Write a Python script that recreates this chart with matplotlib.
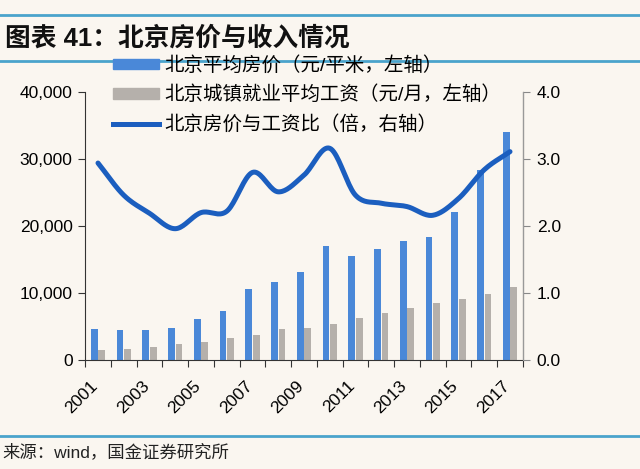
import numpy as np
import matplotlib
matplotlib.use("Agg")
import matplotlib.pyplot as plt
from matplotlib.lines import Line2D
import matplotlib.transforms as mtransforms

plt.rcParams['font.family'] = ['Liberation Sans', 'Noto Sans CJK SC', 'DejaVu Sans']

years = list(range(2001, 2018))
house_price = [4630, 4430, 4430, 4780, 6120, 7360, 10550, 11590, 13130, 17060,
               15520, 16510, 17710, 18410, 22140, 28360, 34080]
wage = [1490, 1690, 1990, 2340, 2740, 3230, 3730, 4580, 4730, 5370,
        6320, 7010, 7710, 8510, 9160, 9850, 10900]
ratio = [2.94, 2.46, 2.19, 1.96, 2.20, 2.22, 2.80, 2.51, 2.76, 3.16,
         2.46, 2.34, 2.29, 2.16, 2.41, 2.84, 3.11]

labels = ['北京平均房价（元/平米，左轴）',
          '北京城镇就业平均工资（元/月，左轴）',
          '北京房价与工资比（倍，右轴）']

bg = '#faf6f0'
c_blue = '#4a88d8'
c_grey = '#b5b0ab'
c_line = '#1b5ebf'
c_rule = '#4aa3cc'


def smooth(xs, ys, n=20):
    # catmull-rom curve through the points, like excel's smoothed line
    xs = np.asarray(xs, float)
    ys = np.asarray(ys, float)
    px = np.concatenate([[2 * xs[0] - xs[1]], xs, [2 * xs[-1] - xs[-2]]])
    py = np.concatenate([[2 * ys[0] - ys[1]], ys, [2 * ys[-1] - ys[-2]]])
    ox, oy = [], []
    t = np.linspace(0, 1, n, endpoint=False)
    for i in range(1, len(px) - 2):
        for p, o in ((px, ox), (py, oy)):
            p0, p1, p2, p3 = p[i - 1], p[i], p[i + 1], p[i + 2]
            o.extend(0.5 * (2 * p1 + (-p0 + p2) * t
                            + (2 * p0 - 5 * p1 + 4 * p2 - p3) * t ** 2
                            + (-p0 + 3 * p1 - 3 * p2 + p3) * t ** 3))
    ox.append(xs[-1])
    oy.append(ys[-1])
    return ox, oy


fig = plt.figure(figsize=(6.4, 4.69), dpi=100, facecolor=bg)
ax = fig.add_axes([0.133, 0.2324, 0.684, 0.5714], facecolor=bg)
ax2 = ax.twinx()

x = np.arange(len(years))
w = 0.27
ax.bar(x - 0.145, house_price, w, color=c_blue, zorder=2)
ax.bar(x + 0.145, wage, w, color=c_grey, zorder=2)

sx, sy = smooth(x, ratio)
ax2.plot(sx, sy, color=c_line, lw=3.6, solid_capstyle='round', zorder=3)

ax.set_xlim(-0.5, len(years) - 0.5)
ax.set_ylim(0, 40000)
ax.set_yticks([0, 10000, 20000, 30000, 40000])
ax.set_yticklabels(['0', '10,000', '20,000', '30,000', '40,000'])
ax2.set_ylim(0, 4.0)
ax2.set_yticks([0, 1, 2, 3, 4])
ax2.set_yticklabels(['0.0', '1.0', '2.0', '3.0', '4.0'])

ax.set_xticks(np.arange(len(years) + 1) - 0.5)
ax.set_xticklabels([])
ax.set_xticks(x[::2], minor=True)
ax.set_xticklabels([str(y) for y in years[::2]], minor=True, rotation=45,
                   ha='right', va='top', rotation_mode='anchor')
ax.tick_params(axis='x', which='minor', length=0, pad=13, labelsize=12.5)
ax.tick_params(axis='x', which='major', length=5, color='#333333')
ax.tick_params(axis='y', length=5, labelsize=12.5, color='#333333', pad=4)
ax2.tick_params(axis='y', length=5, labelsize=12.5, color='#888888', pad=5)
shift = mtransforms.ScaledTranslation(-8 / 100, 0, fig.dpi_scale_trans)
for lab in ax.get_xticklabels(minor=True):
    lab.set_transform(lab.get_transform() + shift)

for a in (ax, ax2):
    a.spines['top'].set_visible(False)
ax.spines['left'].set_color('#333333')
ax.spines['bottom'].set_color('#333333')
ax2.spines['left'].set_visible(False)
ax2.spines['bottom'].set_visible(False)
ax2.spines['right'].set_color('#999999')

handles = [plt.Rectangle((0, 0), 1, 1, color=c_blue),
           plt.Rectangle((0, 0), 1, 1, color=c_grey),
           Line2D([], [], color=c_line, lw=3.6)]
fig.legend(handles, labels, loc='upper left', bbox_to_anchor=(113 / 640, 1 - 56 / 469),
           frameon=False, fontsize=14, handlelength=2.35, handleheight=0.45,
           handletextpad=0.3, labelspacing=0.56, borderpad=0, borderaxespad=0)

# title and source with the blue rules
fig.add_artist(Line2D([0, 1], [1 - 15 / 469, 1 - 15 / 469], color=c_rule, lw=2))
fig.add_artist(Line2D([0, 1], [1 - 61 / 469, 1 - 61 / 469], color=c_rule, lw=2))
fig.add_artist(Line2D([0, 1], [1 - 436 / 469, 1 - 436 / 469], color=c_rule, lw=2))
fig.text(0.008, 1 - 38 / 469, '图表 41：北京房价与收入情况', fontsize=18.5, fontweight='bold',
         va='center', ha='left', color='#111111')
fig.text(0.004, 1 - 452 / 469, '来源：wind，国金证券研究所', fontsize=12.5,
         va='center', ha='left', color='#222222')

fig.savefig('out.png', dpi=100, facecolor=bg)
